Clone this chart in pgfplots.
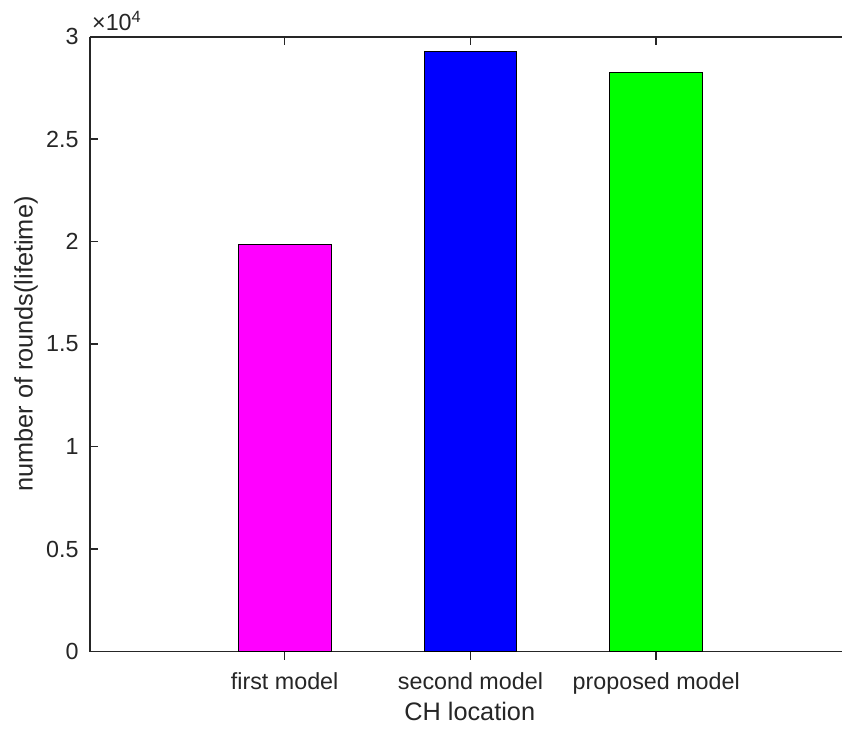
\documentclass[border=0pt]{standalone}
\usepackage{fontspec}
\setmainfont{Liberation Sans}
\usepackage{pgfplots}
\pgfplotsset{compat=1.18}
\definecolor{axgray}{rgb}{0.15,0.15,0.15}
\pgfplotsset{
  common/.style={
    scale only axis,
    width=564.75pt, height=461.7pt,
    xmin=-0.048, xmax=4.0,
    ymin=0, ymax=30000,
    xtick={1,2,3},
    scaled y ticks=false,
  },
  fixlines/.style={
    tick align=inside,
    major tick length=6.3pt,
    tick style={line width=1.2pt, color=axgray},
    every outer x axis line/.append style={-, line width=1.4pt, color=axgray},
    every outer y axis line/.append style={-, line width=1.4pt, color=axgray},
    every inner x axis line/.append style={-},
    every inner y axis line/.append style={-},
  }
}
\begin{document}
\begin{tikzpicture}
\begin{axis}[
  common,
  axis x line=bottom, axis y line=left,
  fixlines,
  xticklabels={first model, second model, proposed model},
  ytick={0,5000,10000,15000,20000,25000,30000},
  yticklabels={0,0.5,1,1.5,2,2.5,3},
  tick label style={font=\fontsize{17.5}{20}\selectfont, color=axgray},
  xticklabel style={yshift=-6pt},
  yticklabel style={xshift=-5pt},
  xlabel={CH location},
  ylabel={number of rounds(lifetime)},
  label style={font=\fontsize{19}{22}\selectfont, color=axgray},
  xlabel style={at={(axis description cs:0.505,-0.0975)}, anchor=center},
  ylabel style={at={(axis description cs:-0.085,0.5)}, anchor=center},
  ybar, bar width=0.5,
  clip=false,
]
\addplot[bar shift=0pt, fill={rgb,1:red,1;green,0;blue,1}, draw=black, line width=0.7pt] coordinates {(1,19880)};
\addplot[bar shift=0pt, fill={rgb,1:red,0;green,0;blue,1}, draw=black, line width=0.7pt] coordinates {(2,29270)};
\addplot[bar shift=0pt, fill={rgb,1:red,0;green,1;blue,0}, draw=black, line width=0.7pt] coordinates {(3,28265)};
\node[anchor=base west, inner sep=0pt, font=\fontsize{17.5}{20}\selectfont, color=axgray] at ([xshift=1.5pt,yshift=4.5pt]rel axis cs:0,1) {×10\textsuperscript{4}};
\path ([xshift=-67.5pt,yshift=27.5pt]rel axis cs:0,1) ++(0,0);
\path ([yshift=-57.5pt]rel axis cs:0,0) ++(0,0);
\end{axis}
\begin{axis}[
  common,
  axis x line=top, axis y line=none,
  fixlines,
  xticklabels={},
  ytick=\empty,
]
\end{axis}
\end{tikzpicture}
\end{document}
